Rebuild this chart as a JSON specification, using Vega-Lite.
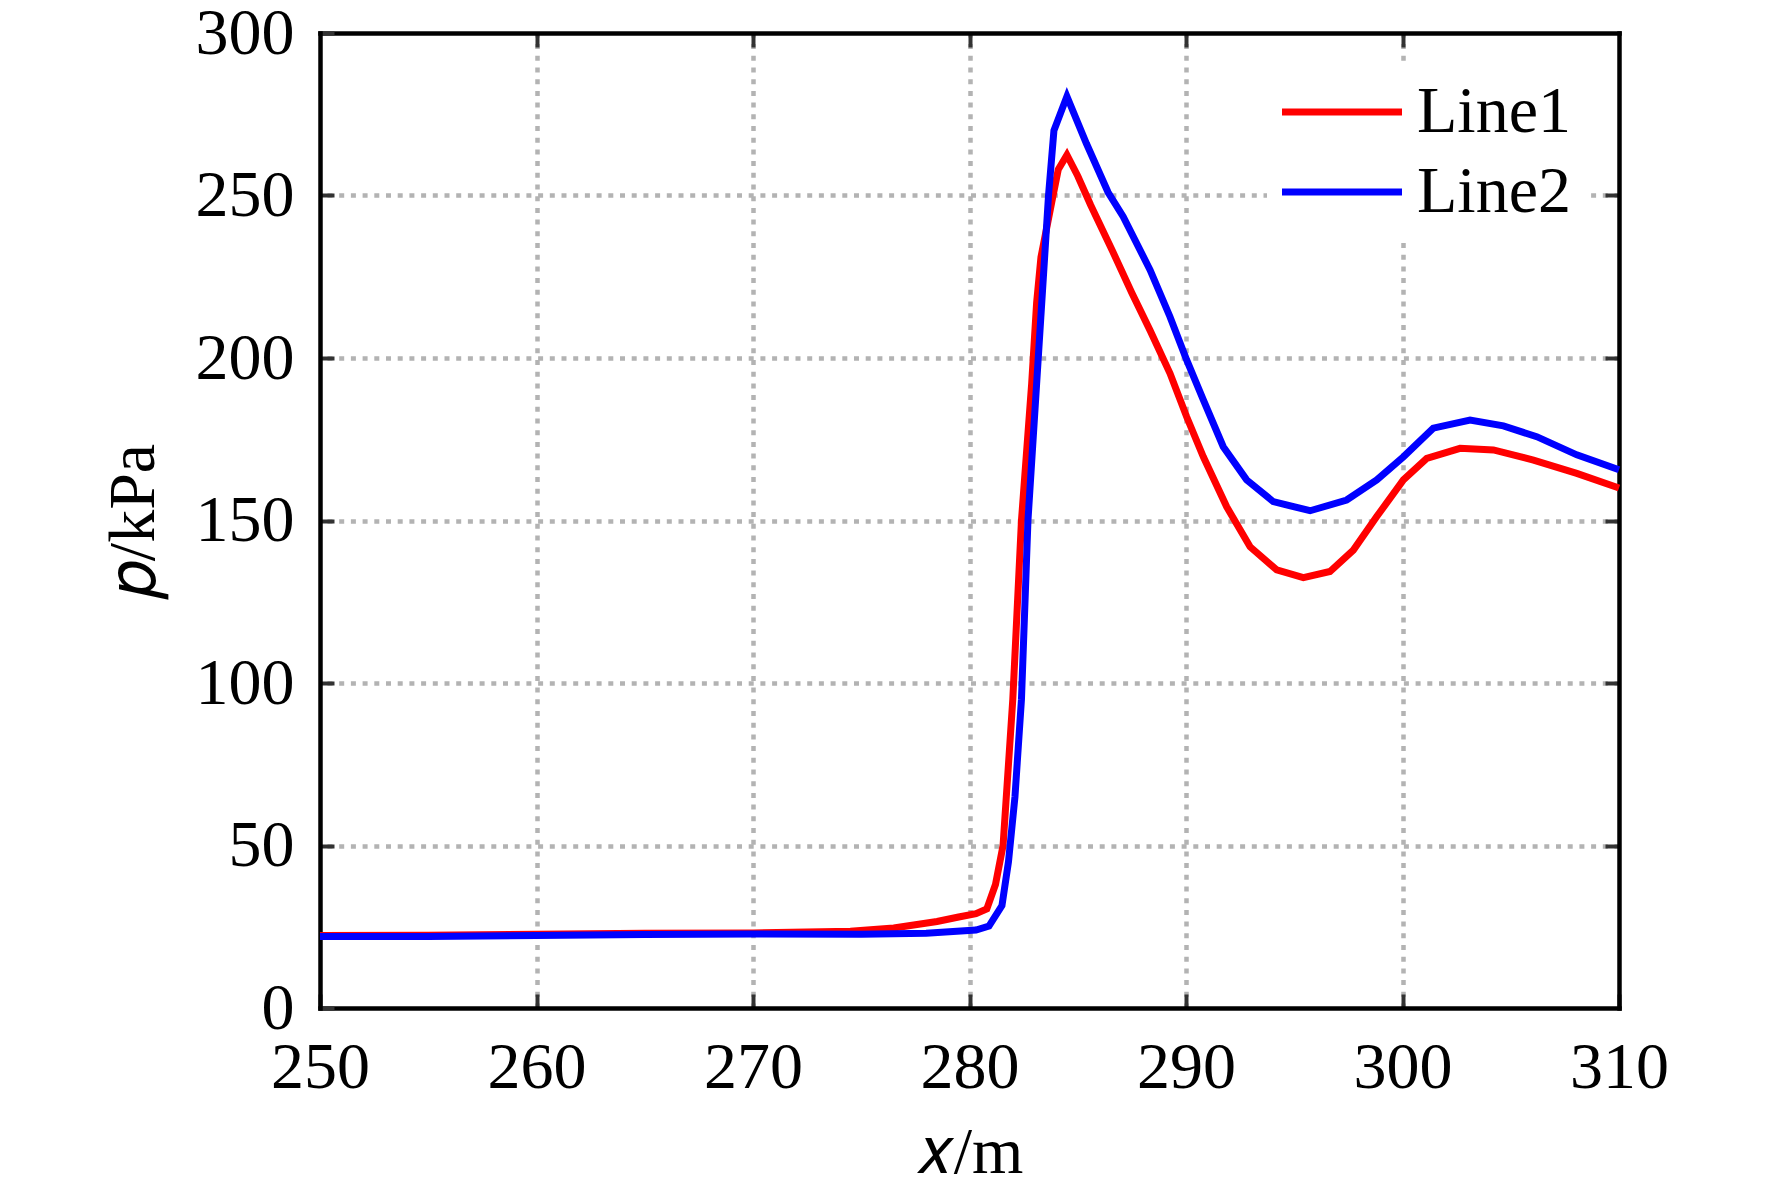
{
  "$schema": "https://vega.github.io/schema/vega-lite/v6.json",
  "width": 1299,
  "height": 975,
  "autosize": {"type": "none"},
  "padding": {"left": 320, "top": 33, "right": 153, "bottom": 185},
  "background": "white",
  "data": {
    "values": [
      {"x": 250, "p": 22.3, "series": "Line1"},
      {"x": 255, "p": 22.4, "series": "Line1"},
      {"x": 260, "p": 22.7, "series": "Line1"},
      {"x": 265, "p": 23.0, "series": "Line1"},
      {"x": 270, "p": 23.1, "series": "Line1"},
      {"x": 274.5, "p": 23.6, "series": "Line1"},
      {"x": 276.5, "p": 24.6, "series": "Line1"},
      {"x": 278.5, "p": 26.6, "series": "Line1"},
      {"x": 279.5, "p": 28.0, "series": "Line1"},
      {"x": 280.3, "p": 29.0, "series": "Line1"},
      {"x": 280.8, "p": 30.5, "series": "Line1"},
      {"x": 281.2, "p": 38, "series": "Line1"},
      {"x": 281.55, "p": 50, "series": "Line1"},
      {"x": 282.0, "p": 95, "series": "Line1"},
      {"x": 282.4, "p": 150, "series": "Line1"},
      {"x": 282.87, "p": 192, "series": "Line1"},
      {"x": 283.1, "p": 217, "series": "Line1"},
      {"x": 283.3, "p": 231, "series": "Line1"},
      {"x": 283.8, "p": 248, "series": "Line1"},
      {"x": 284.1, "p": 258, "series": "Line1"},
      {"x": 284.5, "p": 262.5, "series": "Line1"},
      {"x": 285.0, "p": 256, "series": "Line1"},
      {"x": 285.6, "p": 247, "series": "Line1"},
      {"x": 286.6, "p": 233, "series": "Line1"},
      {"x": 287.5, "p": 220, "series": "Line1"},
      {"x": 288.34, "p": 208.5, "series": "Line1"},
      {"x": 289.26, "p": 195.3, "series": "Line1"},
      {"x": 290.03, "p": 181.9, "series": "Line1"},
      {"x": 290.8, "p": 169.6, "series": "Line1"},
      {"x": 291.88, "p": 154.2, "series": "Line1"},
      {"x": 292.96, "p": 141.9, "series": "Line1"},
      {"x": 294.19, "p": 134.8, "series": "Line1"},
      {"x": 295.42, "p": 132.4, "series": "Line1"},
      {"x": 296.65, "p": 134.3, "series": "Line1"},
      {"x": 297.73, "p": 140.9, "series": "Line1"},
      {"x": 298.81, "p": 151.2, "series": "Line1"},
      {"x": 300.04, "p": 162.5, "series": "Line1"},
      {"x": 301.12, "p": 169.1, "series": "Line1"},
      {"x": 302.66, "p": 172.2, "series": "Line1"},
      {"x": 304.2, "p": 171.7, "series": "Line1"},
      {"x": 306.05, "p": 168.6, "series": "Line1"},
      {"x": 308.05, "p": 164.5, "series": "Line1"},
      {"x": 310, "p": 160.0, "series": "Line1"},
      {"x": 250, "p": 22.0, "series": "Line2"},
      {"x": 255, "p": 22.0, "series": "Line2"},
      {"x": 260, "p": 22.3, "series": "Line2"},
      {"x": 265, "p": 22.6, "series": "Line2"},
      {"x": 270, "p": 22.8, "series": "Line2"},
      {"x": 275, "p": 22.7, "series": "Line2"},
      {"x": 278, "p": 23.0, "series": "Line2"},
      {"x": 280.3, "p": 24.0, "series": "Line2"},
      {"x": 280.9, "p": 25.2, "series": "Line2"},
      {"x": 281.5, "p": 31.5, "series": "Line2"},
      {"x": 281.8, "p": 45, "series": "Line2"},
      {"x": 282.1, "p": 65, "series": "Line2"},
      {"x": 282.4, "p": 95, "series": "Line2"},
      {"x": 282.7, "p": 150, "series": "Line2"},
      {"x": 283.1, "p": 192, "series": "Line2"},
      {"x": 283.65, "p": 250, "series": "Line2"},
      {"x": 283.9, "p": 270, "series": "Line2"},
      {"x": 284.5, "p": 280.5, "series": "Line2"},
      {"x": 285.4, "p": 266, "series": "Line2"},
      {"x": 286.4, "p": 251, "series": "Line2"},
      {"x": 287.1, "p": 243.5, "series": "Line2"},
      {"x": 288.34, "p": 227.1, "series": "Line2"},
      {"x": 289.26, "p": 212.7, "series": "Line2"},
      {"x": 290.03, "p": 199.4, "series": "Line2"},
      {"x": 290.8, "p": 187.1, "series": "Line2"},
      {"x": 291.72, "p": 172.7, "series": "Line2"},
      {"x": 292.8, "p": 162.5, "series": "Line2"},
      {"x": 294.03, "p": 155.8, "series": "Line2"},
      {"x": 295.73, "p": 153.0, "series": "Line2"},
      {"x": 297.42, "p": 156.3, "series": "Line2"},
      {"x": 298.81, "p": 162.5, "series": "Line2"},
      {"x": 300.04, "p": 169.6, "series": "Line2"},
      {"x": 301.42, "p": 178.4, "series": "Line2"},
      {"x": 303.12, "p": 180.9, "series": "Line2"},
      {"x": 304.66, "p": 179.1, "series": "Line2"},
      {"x": 306.2, "p": 175.8, "series": "Line2"},
      {"x": 308.05, "p": 170.2, "series": "Line2"},
      {"x": 310, "p": 165.6, "series": "Line2"}
    ]
  },
  "layer": [
    {
      "mark": {"type": "line", "strokeWidth": 7},
      "encoding": {
        "x": {
          "field": "x",
          "type": "quantitative",
          "scale": {"domain": [250, 310], "nice": false, "zero": false},
          "axis": {
            "orient": "bottom",
            "values": [250, 260, 270, 280, 290, 300, 310],
            "grid": false,
            "labelPadding": 93,
            "labelBaseline": "alphabetic",
            "title": "𝑥/m",
            "titleX": 649.5,
            "titleY": 164,
            "titleBaseline": "alphabetic"
          }
        },
        "y": {
          "field": "p",
          "type": "quantitative",
          "scale": {"domain": [0, 300], "nice": false},
          "axis": {
            "orient": "left",
            "values": [0, 50, 100, 150, 200, 250, 300],
            "grid": false,
            "labelPadding": 40,
            "labelBaseline": "middle",
            "title": "𝑝/kPa",
            "titleX": -167,
            "titleY": 487.5,
            "titleAngle": 270,
            "titleAlign": "center",
            "titleBaseline": "alphabetic"
          }
        },
        "color": {
          "field": "series",
          "type": "nominal",
          "scale": {"domain": ["Line1", "Line2"], "range": ["#ff0000", "#0000ff"]},
          "legend": {
            "orient": "none",
            "legendX": 947,
            "legendY": 31,
            "title": null,
            "symbolType": "M-4,0L4,0",
            "symbolSize": 900,
            "symbolStrokeWidth": 7,
            "symbolOffset": 27,
            "labelOffset": 42,
            "labelFont": "Liberation Serif",
            "labelFontSize": 66,
            "labelColor": "black",
            "labelLimit": 400,
            "rowPadding": 14,
            "padding": 15,
            "fillColor": "white"
          }
        }
      }
    },
    {
      "mark": {"type": "point", "opacity": 0},
      "encoding": {
        "x": {
          "field": "x",
          "type": "quantitative",
          "axis": {
            "orient": "top",
            "values": [260, 270, 280, 290, 300],
            "labels": false,
            "title": null,
            "grid": true,
            "gridColor": "#b3b3b3",
            "gridWidth": 4.5,
            "gridDash": [5, 6.7]
          }
        },
        "y": {
          "field": "p",
          "type": "quantitative",
          "axis": {
            "orient": "right",
            "values": [50, 100, 150, 200, 250],
            "labels": false,
            "title": null,
            "grid": true,
            "gridColor": "#b3b3b3",
            "gridWidth": 4.5,
            "gridDash": [5, 6.7]
          }
        }
      }
    }
  ],
  "resolve": {"axis": {"x": "independent", "y": "independent"}},
  "config": {
    "font": "Liberation Serif",
    "view": {"stroke": null},
    "axis": {
      "domain": true,
      "domainColor": "black",
      "domainWidth": 4.5,
      "domainCap": "square",
      "ticks": true,
      "tickColor": "#333333",
      "tickWidth": 4,
      "tickSize": -14,
      "labelFont": "Liberation Serif",
      "labelFontSize": 66,
      "labelColor": "black",
      "labelFlush": false,
      "labelOverlap": false,
      "titleFont": "Liberation Serif",
      "titleFontSize": 66,
      "titleFontWeight": "normal",
      "titleColor": "black"
    }
  }
}
